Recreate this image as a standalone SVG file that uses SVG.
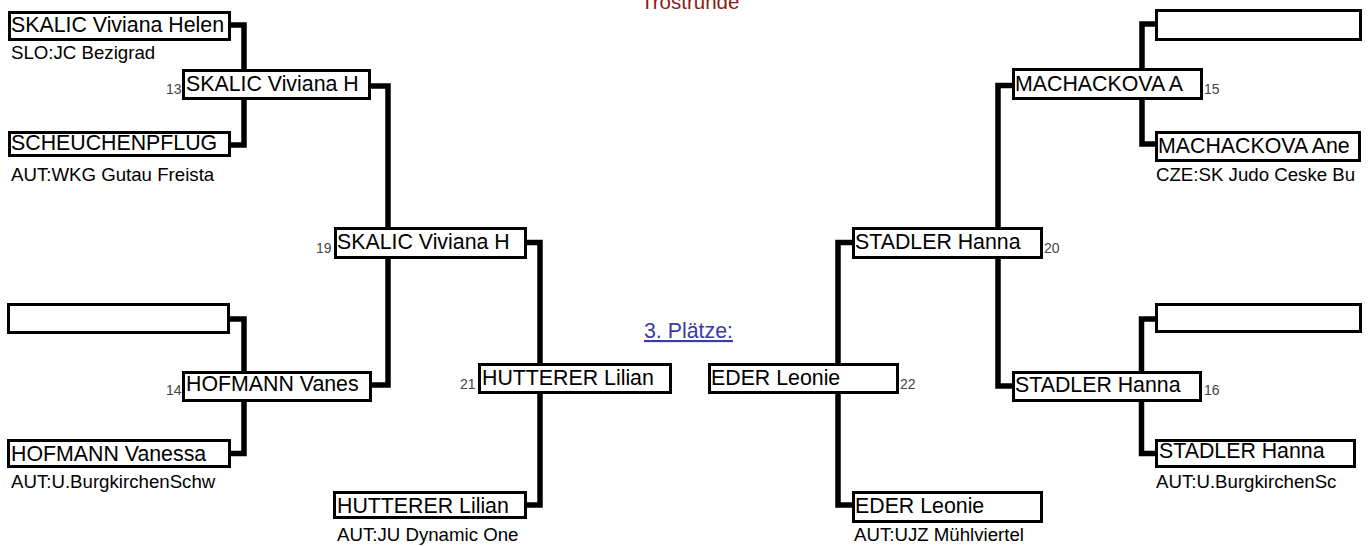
<svg xmlns="http://www.w3.org/2000/svg" width="1372" height="546" viewBox="0 0 1372 546">
<style>
.box{fill:#fff;stroke:#000;stroke-width:3}
.name{font-family:"Liberation Sans",Arial,sans-serif;font-size:21.33px;fill:#000}
.club{font-family:"Liberation Sans",Arial,sans-serif;font-size:18.67px;fill:#000}
.num{font-family:"Liberation Sans",Arial,sans-serif;font-size:14px;fill:#444}
.conn{fill:none;stroke:#000;stroke-width:5.5;stroke-linejoin:miter;stroke-linecap:butt}
</style>
<rect width="1372" height="546" fill="#fff"/>
<text x="641" y="8.5" font-family="Liberation Sans, Arial, sans-serif" font-size="20.5" fill="#8b1a1a">Trostrunde</text>
<text x="644" y="338" font-family="Liberation Sans, Arial, sans-serif" font-size="21.33" fill="#3a3aa8" text-decoration="underline">3. Plätze:</text>
<g id="connectors">
<path class="conn" d="M230,25 H244 V145 H230"/>
<path class="conn" d="M370,86 H388 V385 H371"/>
<path class="conn" d="M229,319 H244 V453.5 H230"/>
<path class="conn" d="M526,242.5 H540 V505 H526"/>
<path class="conn" d="M853,242.5 H838 V505 H853"/>
<path class="conn" d="M1013,85.5 H998 V386 H1013"/>
<path class="conn" d="M1156,24 H1142 V144 H1156"/>
<path class="conn" d="M1156,319 H1141.5 V453.5 H1156"/>
</g>
<g id="n-skalic-r1">
<rect class="box" x="9.5" y="12.5" width="220" height="27"/>
<text class="name" x="11" y="32">SKALIC Viviana Helen</text>
<text class="club" x="11" y="59">SLO:JC Bezigrad</text>
</g>
<g id="n-13">
<rect class="box" x="183.5" y="70.5" width="186" height="28"/>
<text class="name" x="186" y="91">SKALIC Viviana H</text>
<text class="num" x="166" y="94">13</text>
</g>
<g id="n-scheuchenpflug">
<rect class="box" x="9.5" y="132.5" width="220" height="23"/>
<text class="name" x="11" y="150">SCHEUCHENPFLUG</text>
<text class="club" x="11" y="181">AUT:WKG Gutau Freista</text>
</g>
<g id="n-19">
<rect class="box" x="335.5" y="228.5" width="190" height="29"/>
<text class="name" x="337" y="249">SKALIC Viviana H</text>
<text class="num" x="316" y="253">19</text>
</g>
<g id="n-empty-l">
<rect class="box" x="8.5" y="304.5" width="220" height="28"/>
</g>
<g id="n-14">
<rect class="box" x="183.5" y="372.5" width="187" height="28"/>
<text class="name" x="186" y="391">HOFMANN Vanes</text>
<text class="num" x="166" y="395">14</text>
</g>
<g id="n-hofmann">
<rect class="box" x="8.5" y="440.5" width="221" height="26"/>
<text class="name" x="11" y="461">HOFMANN Vanessa</text>
<text class="club" x="11" y="488">AUT:U.BurgkirchenSchw</text>
</g>
<g id="n-21">
<rect class="box" x="479.5" y="364.5" width="191" height="28"/>
<text class="name" x="482" y="385">HUTTERER Lilian</text>
<text class="num" x="460" y="389">21</text>
</g>
<g id="n-hutterer">
<rect class="box" x="334.5" y="492.5" width="191" height="25"/>
<text class="name" x="337" y="513">HUTTERER Lilian</text>
<text class="club" x="337" y="541">AUT:JU Dynamic One</text>
</g>
<g id="n-22">
<rect class="box" x="709.5" y="364.5" width="188" height="28"/>
<text class="name" x="711" y="385">EDER Leonie</text>
<text class="num" x="900" y="389">22</text>
</g>
<g id="n-eder">
<rect class="box" x="853.5" y="492.5" width="188" height="29"/>
<text class="name" x="855" y="513">EDER Leonie</text>
<text class="club" x="854" y="541">AUT:UJZ Mühlviertel</text>
</g>
<g id="n-20">
<rect class="box" x="853.5" y="228.5" width="188" height="29"/>
<text class="name" x="855" y="249">STADLER Hanna</text>
<text class="num" x="1044" y="253">20</text>
</g>
<g id="n-15">
<rect class="box" x="1013.5" y="69.5" width="188" height="29"/>
<text class="name" x="1015" y="91">MACHACKOVA A</text>
<text class="num" x="1204" y="94">15</text>
</g>
<g id="n-empty-r1">
<rect class="box" x="1156.5" y="10.5" width="204" height="29"/>
</g>
<g id="n-machackova">
<rect class="box" x="1156.5" y="132.5" width="203" height="28"/>
<text class="name" x="1158" y="153">MACHACKOVA Ane</text>
<text class="club" x="1156" y="181">CZE:SK Judo Ceske Bu</text>
</g>
<g id="n-empty-r2">
<rect class="box" x="1156.5" y="304.5" width="204" height="27"/>
</g>
<g id="n-16">
<rect class="box" x="1013.5" y="372.5" width="187" height="28"/>
<text class="name" x="1015" y="392">STADLER Hanna</text>
<text class="num" x="1204" y="395">16</text>
</g>
<g id="n-stadler">
<rect class="box" x="1156.5" y="440.5" width="198" height="26"/>
<text class="name" x="1159" y="458">STADLER Hanna</text>
<text class="club" x="1156" y="488">AUT:U.BurgkirchenSc</text>
</g>
</svg>
